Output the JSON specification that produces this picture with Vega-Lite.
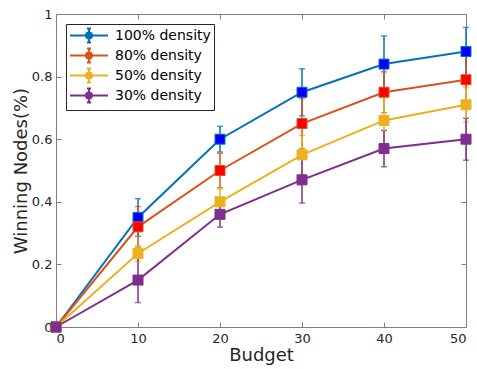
{
  "$schema": "https://vega.github.io/schema/vega-lite/v6.json",
  "width": 410,
  "height": 313,
  "autosize": {"type": "none"},
  "padding": {"left": 56, "top": 14, "right": 11, "bottom": 42},
  "background": "white",
  "config": {
    "font": "DejaVu Sans",
    "view": {"stroke": "#7f7f7f", "strokeWidth": 1},
    "axis": {
      "domain": false,
      "grid": false,
      "tickColor": "#7f7f7f",
      "tickSize": -5,
      "labelColor": "#262626",
      "labelFontSize": 13,
      "labelFont": "DejaVu Sans",
      "titleColor": "#262626",
      "titleFont": "DejaVu Sans",
      "titleFontSize": 18,
      "titleFontWeight": "normal"
    }
  },
  "data": {
    "values": [
      {"series": "100% density", "budget": 0, "value": 0, "err": 0},
      {"series": "100% density", "budget": 10, "value": 0.35, "err": 0.06},
      {"series": "100% density", "budget": 20, "value": 0.60, "err": 0.041},
      {"series": "100% density", "budget": 30, "value": 0.75, "err": 0.075},
      {"series": "100% density", "budget": 40, "value": 0.84, "err": 0.09},
      {"series": "100% density", "budget": 50, "value": 0.88, "err": 0.077},
      {"series": "80% density", "budget": 0, "value": 0, "err": 0},
      {"series": "80% density", "budget": 10, "value": 0.32, "err": 0.065},
      {"series": "80% density", "budget": 20, "value": 0.50, "err": 0.055},
      {"series": "80% density", "budget": 30, "value": 0.65, "err": 0.08},
      {"series": "80% density", "budget": 40, "value": 0.75, "err": 0.065},
      {"series": "80% density", "budget": 50, "value": 0.79, "err": 0.08},
      {"series": "50% density", "budget": 0, "value": 0, "err": 0},
      {"series": "50% density", "budget": 10, "value": 0.235, "err": 0.025},
      {"series": "50% density", "budget": 20, "value": 0.40, "err": 0.041},
      {"series": "50% density", "budget": 30, "value": 0.55, "err": 0.062},
      {"series": "50% density", "budget": 40, "value": 0.66, "err": 0.082},
      {"series": "50% density", "budget": 50, "value": 0.71, "err": 0.055},
      {"series": "30% density", "budget": 0, "value": 0, "err": 0},
      {"series": "30% density", "budget": 10, "value": 0.15, "err": 0.072},
      {"series": "30% density", "budget": 20, "value": 0.36, "err": 0.041},
      {"series": "30% density", "budget": 30, "value": 0.47, "err": 0.074},
      {"series": "30% density", "budget": 40, "value": 0.57, "err": 0.058},
      {"series": "30% density", "budget": 50, "value": 0.60, "err": 0.067}
    ]
  },
  "resolve": {"axis": {"x": "independent", "y": "independent"}},
  "layer": [
    {
      "mark": {"type": "line", "strokeWidth": 2},
      "encoding": {
        "x": {"field": "budget", "type": "quantitative", "scale": {"domain": [0, 50], "nice": false},
              "axis": {"orient": "bottom", "values": [0, 10, 20, 30, 40, 50], "title": "Budget", "labelPadding": 10, "titlePadding": 1}},
        "y": {"field": "value", "type": "quantitative", "scale": {"domain": [0, 1], "nice": false},
              "axis": {"orient": "left", "values": [0, 0.2, 0.4, 0.6, 0.8, 1], "format": "~g", "title": "Winning Nodes(%)", "labelPadding": 9, "titlePadding": 1}},
        "stroke": {"field": "series", "type": "nominal", "sort": ["100% density", "80% density", "50% density", "30% density"],
                   "scale": {"domain": ["100% density", "80% density", "50% density", "30% density"], "range": ["#0072BD", "#D95319", "#EDB120", "#7E2F8E"]},
                   "legend": {"title": null, "orient": "top-left", "offset": 10, "fillColor": "white", "strokeColor": "#262626", "padding": 3,
                              "labelFontSize": 14, "labelColor": "#000000", "labelFont": "DejaVu Sans", "labelOffset": 29, "rowPadding": -6,
                              "symbolType": "M-1,0H4.07M1.53,-0.93V0.93M1.26,-0.93H1.8M1.26,0.93H1.8M1.13,0A0.4,0.4,0,1,0,1.93,0A0.4,0.4,0,1,0,1.13,0Z",
                              "symbolSize": 225, "symbolStrokeWidth": 2}},
        "detail": {"field": "series"}
      }
    },
    {
      "mark": {"type": "errorbar", "ticks": {"size": 6}, "thickness": 1.5},
      "encoding": {
        "x": {"field": "budget", "type": "quantitative", "axis": null},
        "y": {"field": "value", "type": "quantitative", "axis": null},
        "yError": {"field": "err"},
        "color": {"field": "series", "type": "nominal",
                  "scale": {"domain": ["100% density", "80% density", "50% density", "30% density"], "range": ["#0072BD", "#D95319", "#EDB120", "#7E2F8E"]},
                  "legend": null}
      }
    },
    {
      "mark": {"type": "point", "shape": "square", "size": 100, "filled": true, "strokeWidth": 1, "opacity": 1},
      "encoding": {
        "x": {"field": "budget", "type": "quantitative",
              "axis": {"orient": "top", "values": [0, 10, 20, 30, 40, 50], "labels": false, "title": null}},
        "y": {"field": "value", "type": "quantitative",
              "axis": {"orient": "right", "values": [0, 0.2, 0.4, 0.6, 0.8, 1], "labels": false, "title": null}},
        "fill": {"field": "series", "type": "nominal",
                 "scale": {"domain": ["100% density", "80% density", "50% density", "30% density"], "range": ["#0000FF", "#FF0000", "#EDB120", "#7E2F8E"]},
                 "legend": null},
        "stroke": {"field": "series", "type": "nominal"}
      }
    }
  ]
}
